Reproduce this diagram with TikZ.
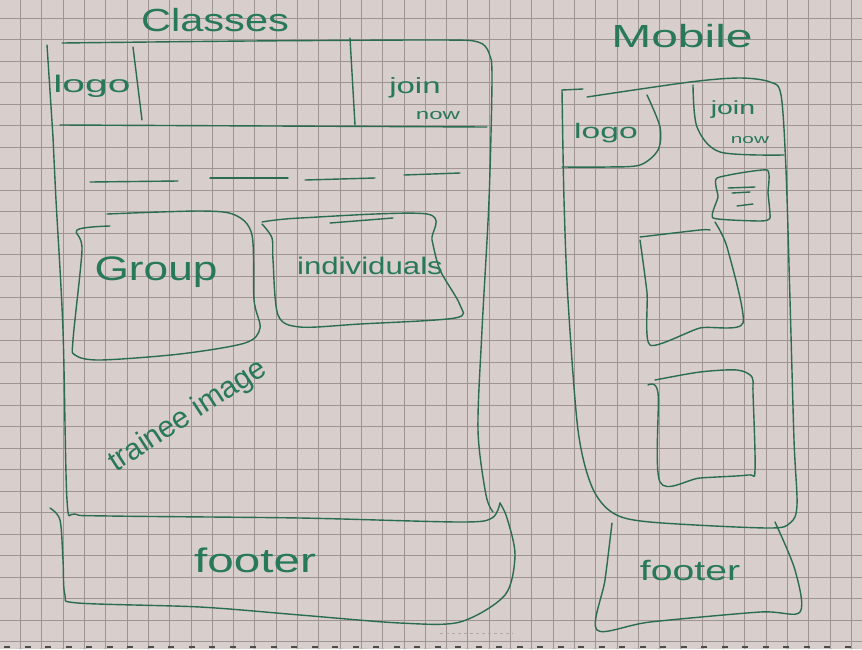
\documentclass[tikz,border=0pt]{standalone}
\usepackage{fontspec}
\setmainfont{Liberation Sans}
\definecolor{paper}{RGB}{216,206,203}
\definecolor{gridline}{RGB}{158,148,147}
\definecolor{ink}{RGB}{42,108,80}
\definecolor{inktext}{RGB}{40,120,90}
\begin{document}
\begin{tikzpicture}[x=1pt,y=-1pt,
  pen/.style={draw=ink, line width=1.4pt, line cap=round, line join=round},
  hand/.style={text=inktext, inner sep=0pt, font=\fontsize{#1}{#1}\selectfont},
  hand/.default=24]
% sheet of squared paper
\fill[paper] (0,0) rectangle (862,649);
\useasboundingbox (0,0) rectangle (862,649);
\foreach \i in {0,...,40} {
  \draw[gridline, line width=0.7pt] (20.5+21.3*\i,0) -- (20.5+21.3*\i,649);
}
\foreach \j in {0,...,30} {
  \draw[gridline, line width=0.7pt] (0,18+21.5*\j) -- (862,18+21.5*\j);
}
\foreach \k in {0,...,42} {
  \draw[black!70, line width=2pt] (4+20.5*\k,647) -- (10+20.5*\k,647);
}
\draw[gridline!80!white, line width=0.8pt, dashed] (440,633) -- (513,633);

% ---------- desktop page ----------
\node[hand=32, xscale=1.3] (classes) at (215,20) {Classes};
% outer frame
\draw[pen] (47,45) -- (53,137);
\draw[pen] plot[smooth, tension=0.5] coordinates {(62,43) (250,41) (440,40) (478,42) (489,53) (492,78) (489,200) (482,330) (478,430) (486,495) (493,512)};
\draw[pen] plot[smooth, tension=0.5] coordinates {(500,503) (492,518) (460,522) (300,518) (110,516) (75,514) (67,500) (63,330) (56,200) (53,137)};
% header
\draw[pen] (60,125) -- (487,127);
\draw[pen] (133,47) -- (142,120);
\draw[pen] (350,38) -- (355,125);
\node[hand=24, xscale=1.7] (logo) at (92,86) {logo};
\node[hand=22, xscale=1.5] (join) at (415,88) {join};
\node[hand=15, xscale=1.6] (now) at (438,116) {now};
% navigation items
\draw[pen] (90,182) -- (178,181);
\draw[pen] (210,178) -- (288,178);
\draw[pen] (305,180) -- (375,178);
\draw[pen] (404,175) -- (460,173);
% class cards
\draw[pen] plot[smooth, tension=0.5] coordinates {(107,214) (200,211) (235,215) (252,235) (254,300) (260,328) (245,343) (180,354) (100,360) (75,355) (73,340) (82,250) (77,230) (110,226)};
\node[hand=34, xscale=1.3] (group) at (156,272) {Group};
\draw[pen] plot[smooth, tension=0.5] coordinates {(262,222) (300,218) (427,214) (432,240) (440,270) (460,305) (455,318) (360,324) (300,327) (278,315) (273,260) (272,238) (262,224)};
\draw[pen] (330,223) -- (393,218);
\node[hand=24, xscale=1.3] (indiv) at (370,266) {individuals};
\node[hand=30, rotate=33] (trainee) at (188,416) {trainee image};
% footer
\draw[pen] plot[smooth, tension=0.5] coordinates {(50,508) (60,520) (63,560) (65,595) (78,603) (200,607) (300,615) (400,623) (460,622) (505,595) (515,555) (507,518) (500,503)};
\node[hand=34, xscale=1.4] (footer) at (255,560) {footer};

% ---------- mobile page ----------
\node[hand=32, xscale=1.5] (mobile) at (682,36) {Mobile};
% frame
\draw[pen] (562,90) -- (583,89);
\draw[pen] plot[smooth, tension=0.5] coordinates {(587,97) (690,82) (740,78) (770,82) (781,95) (786,170) (790,300) (794,440) (797,505) (790,523) (767,528) (650,522) (613,513) (592,487) (578,430) (568,300) (564,200) (562,90)};
% header blocks
\draw[pen] plot[smooth, tension=0.5] coordinates {(647,95) (660,127) (658,150) (640,165) (607,167) (562,167)};
\node[hand=21, xscale=1.6] (mlogo) at (606,133) {logo};
\draw[pen] plot[smooth, tension=0.5] coordinates {(693,85) (697,127) (720,152) (784,155)};
\node[hand=19, xscale=1.5] (mjoin) at (733,110) {join};
\node[hand=13, xscale=1.6] (mnow) at (750,140) {now};
% menu button
\draw[pen] plot[smooth cycle, tension=0.3] coordinates {(717,178) (767,170) (768,193) (770,218) (760,221) (713,218) (718,197)};
\draw[pen] (728,188) -- (755,187);
\draw[pen] (732,193) -- (750,192);
\draw[pen] (737,206) -- (753,204);
% cards
\draw[pen] plot[smooth, tension=0.4] coordinates {(640,237) (700,230) (710,230)};
\draw[pen] plot[smooth, tension=0.4] coordinates {(715,222) (727,247) (743,323) (700,328) (650,345) (647,293) (640,240)};
\draw[pen] plot[smooth, tension=0.5] coordinates {(655,380) (700,372) (737,370) (752,377) (753,393) (755,470) (748,475) (700,478) (660,482) (658,393) (648,385)};
% footer
\draw[pen] plot[smooth, tension=0.5] coordinates {(612,523) (605,580) (597,630) (650,622) (760,612) (800,612) (795,570) (775,522)};
\node[hand=28, xscale=1.4] (mfooter) at (690,570) {footer};
\end{tikzpicture}
\end{document}
